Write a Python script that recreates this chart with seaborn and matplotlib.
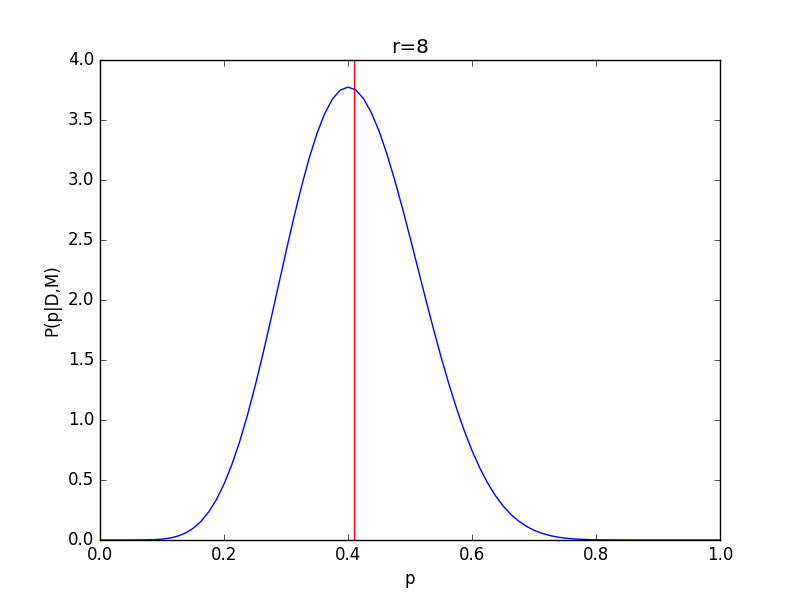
import numpy as np
import pandas as pd
import seaborn as sns
import matplotlib.pyplot as plt

# values
p_values = [0.0, 0.025, 0.05, 0.075, 0.0875, 0.1, 0.1125, 0.125, 0.1375, 0.15,
            0.1625, 0.175, 0.1875, 0.2, 0.2125, 0.225, 0.2375, 0.25, 0.2625, 0.275,
            0.2875, 0.3, 0.3125, 0.325, 0.3375, 0.35, 0.3625, 0.375, 0.3875, 0.4,
            0.4125, 0.425, 0.4375, 0.45, 0.4625, 0.475, 0.4875, 0.5, 0.5125, 0.525,
            0.5375, 0.55, 0.5625, 0.575, 0.5875, 0.6, 0.6125, 0.625, 0.6375, 0.65,
            0.6625, 0.675, 0.6875, 0.7, 0.7125, 0.725, 0.7375, 0.75, 0.7625, 0.775,
            0.8, 0.825, 0.85, 0.875, 0.9, 0.95, 1.0]
density = [0.0, 0.0, 0.00006, 0.00104, 0.00303, 0.00747, 0.0162, 0.0318, 0.0573, 0.0965,
           0.1532, 0.2313, 0.3345, 0.4656, 0.6257, 0.8158, 1.0343, 1.2787, 1.5441, 1.8247,
           2.1135, 2.4023, 2.6826, 2.9457, 3.1836, 3.3885, 3.5541, 3.6755, 3.7490, 3.7738,
           3.7509, 3.6782, 3.5628, 3.4085, 3.2205, 3.0057, 2.7708, 2.5228, 2.2685, 2.0141,
           1.7655, 1.5273, 1.3038, 1.0977, 0.9115, 0.7454, 0.6005, 0.4763, 0.3715, 0.2849,
           0.2144, 0.1583, 0.1145, 0.0811, 0.0560, 0.0378, 0.0248, 0.0158, 0.0097, 0.0058,
           0.0018, 0.0005, 0.0001, 0.0, 0.0, 0.0, 0.0]
mean_p = 0.409
title = "r=8"

df = pd.DataFrame({"p": p_values, "P(p|D,M)": density})

plt.style.use("classic")
plt.rcParams["figure.facecolor"] = "white"
plt.rcParams["savefig.facecolor"] = "white"
plt.rcParams["font.family"] = ["DejaVu Sans"]

fig, ax = plt.subplots(figsize=(8, 6), dpi=100)
sns.lineplot(data=df, x="p", y="P(p|D,M)", color="blue", linewidth=1, ax=ax)
ax.axvline(mean_p, color="red", linewidth=1)

ax.set_xlim(0, 1)
ax.set_ylim(0, 4)
ax.set_xlabel("p")
ax.set_ylabel("P(p|D,M)")
ax.set_title(title)

fig.savefig("out.png", dpi=100)
